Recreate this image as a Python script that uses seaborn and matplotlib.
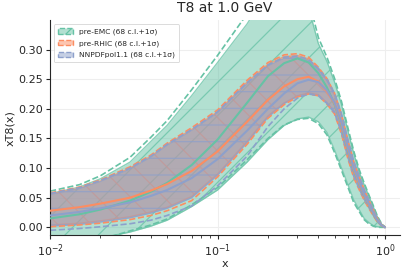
import numpy as np
import matplotlib
matplotlib.use("Agg")
import matplotlib.pyplot as plt
from matplotlib.patches import Patch
import seaborn as sns

# ---------------- data ----------------
x = [0.01, 0.015, 0.02, 0.03, 0.04, 0.05, 0.07, 0.1, 0.15, 0.2, 0.25, 0.3, 0.35,
     0.4, 0.45, 0.5, 0.55, 0.6, 0.65, 0.7, 0.75, 0.8, 0.85, 0.9, 0.95, 1.0]

labels = ["pre-EMC (68 c.l.+1σ)", "pre-RHIC (68 c.l.+1σ)", "NNPDFpol1.1 (68 c.l.+1σ)"]

# pre-EMC
emc_cv = [0.015, 0.022, 0.030, 0.045, 0.060, 0.075, 0.105, 0.148, 0.210, 0.255, 0.277, 0.285, 0.278,
          0.260, 0.236, 0.207, 0.172, 0.130, 0.096, 0.074, 0.054, 0.038, 0.024, 0.011, 0.004, 0.0]
emc_lo = [-0.030, -0.025, -0.018, -0.008, 0.002, 0.012, 0.035, 0.063, 0.110, 0.148, 0.172, 0.183, 0.186,
          0.178, 0.160, 0.130, 0.100, 0.072, 0.046, 0.030, 0.015, 0.008, 0.003, 0.001, 0.0, 0.0]
emc_hi = [0.057, 0.068, 0.082, 0.110, 0.145, 0.172, 0.222, 0.278, 0.343, 0.400, 0.430, 0.430, 0.370,
          0.310, 0.280, 0.245, 0.207, 0.163, 0.125, 0.094, 0.072, 0.053, 0.035, 0.018, 0.006, 0.0]
emc_s_lo = [-0.034, -0.028, -0.021, -0.006, 0.004, 0.014, 0.038, 0.067, 0.114, 0.150, 0.173, 0.182, 0.184,
            0.175, 0.156, 0.126, 0.096, 0.068, 0.042, 0.027, 0.013, 0.006, 0.002, 0.0, 0.0, 0.0]
emc_s_hi = [0.061, 0.072, 0.087, 0.118, 0.152, 0.180, 0.232, 0.290, 0.360, 0.420, 0.450, 0.445, 0.385,
            0.320, 0.287, 0.251, 0.212, 0.168, 0.129, 0.098, 0.075, 0.055, 0.037, 0.019, 0.007, 0.0]

# pre-RHIC
rhic_cv = [0.028, 0.034, 0.040, 0.050, 0.062, 0.073, 0.095, 0.128, 0.178, 0.215, 0.238, 0.250, 0.254,
           0.246, 0.229, 0.209, 0.174, 0.132, 0.098, 0.075, 0.055, 0.039, 0.025, 0.012, 0.004, 0.0]
rhic_lo = [0.004, 0.007, 0.011, 0.018, 0.026, 0.034, 0.052, 0.090, 0.145, 0.188, 0.210, 0.222, 0.227,
           0.224, 0.210, 0.194, 0.160, 0.119, 0.087, 0.066, 0.048, 0.034, 0.021, 0.010, 0.003, 0.0]
rhic_hi = [0.056, 0.066, 0.078, 0.100, 0.120, 0.140, 0.165, 0.195, 0.245, 0.275, 0.288, 0.290, 0.284,
           0.268, 0.249, 0.224, 0.188, 0.145, 0.109, 0.084, 0.062, 0.044, 0.029, 0.014, 0.005, 0.0]
rhic_s_lo = [0.001, 0.004, 0.007, 0.013, 0.020, 0.028, 0.045, 0.085, 0.140, 0.184, 0.207, 0.220, 0.225,
             0.222, 0.208, 0.191, 0.157, 0.116, 0.084, 0.064, 0.046, 0.032, 0.020, 0.009, 0.003, 0.0]
rhic_s_hi = [0.058, 0.068, 0.080, 0.102, 0.122, 0.142, 0.168, 0.198, 0.248, 0.278, 0.291, 0.293, 0.287,
             0.270, 0.251, 0.226, 0.190, 0.147, 0.111, 0.086, 0.064, 0.046, 0.030, 0.015, 0.005, 0.0]

# NNPDFpol1.1
pol_cv = [0.020, 0.026, 0.032, 0.042, 0.053, 0.063, 0.083, 0.115, 0.163, 0.200, 0.226, 0.243, 0.249,
          0.245, 0.231, 0.210, 0.176, 0.134, 0.100, 0.077, 0.056, 0.040, 0.025, 0.012, 0.004, 0.0]
pol_lo = [0.002, 0.005, 0.009, 0.016, 0.024, 0.032, 0.050, 0.088, 0.143, 0.186, 0.209, 0.221, 0.226,
          0.223, 0.210, 0.195, 0.162, 0.121, 0.089, 0.068, 0.049, 0.035, 0.022, 0.010, 0.003, 0.0]
pol_hi = [0.055, 0.065, 0.077, 0.098, 0.118, 0.138, 0.163, 0.193, 0.242, 0.272, 0.285, 0.287, 0.281,
          0.266, 0.248, 0.224, 0.189, 0.146, 0.110, 0.085, 0.063, 0.045, 0.029, 0.014, 0.005, 0.0]
pol_s_lo = [-0.005, -0.002, 0.001, 0.006, 0.012, 0.020, 0.036, 0.070, 0.120, 0.170, 0.200, 0.218, 0.225,
            0.222, 0.209, 0.193, 0.160, 0.119, 0.087, 0.066, 0.048, 0.034, 0.021, 0.010, 0.003, 0.0]
pol_s_hi = [0.057, 0.067, 0.079, 0.100, 0.120, 0.140, 0.165, 0.195, 0.244, 0.274, 0.287, 0.289, 0.283,
            0.268, 0.250, 0.226, 0.191, 0.148, 0.112, 0.087, 0.064, 0.046, 0.030, 0.015, 0.005, 0.0]

# ---------------- plot ----------------
sns.set_style("ticks")
plt.rcParams['font.family'] = ['DejaVu Sans']
plt.rcParams['hatch.linewidth'] = 0.9

colors = sns.color_palette("Set2", 3)
hatches = ['/', '\\', '-']
sets = [
    (emc_cv, emc_lo, emc_hi, emc_s_lo, emc_s_hi),
    (rhic_cv, rhic_lo, rhic_hi, rhic_s_lo, rhic_s_hi),
    (pol_cv, pol_lo, pol_hi, pol_s_lo, pol_s_hi),
]

fig, ax = plt.subplots(figsize=(4.07, 2.73), dpi=100)
fig.subplots_adjust(left=0.123, right=0.983, bottom=0.138, top=0.925)

handles = []
for (cv, lo, hi, slo, shi), c, h, lab in zip(sets, colors, hatches, labels):
    ax.fill_between(x, lo, hi, color=c, alpha=0.5, lw=0, zorder=1)
    ax.fill_between(x, lo, hi, facecolor='none', edgecolor=c, alpha=0.75, hatch=h, lw=1.0, zorder=1)
    sns.lineplot(x=x, y=cv, color=c, lw=1.5, ax=ax, zorder=3)
    sns.lineplot(x=x, y=slo, color=c, lw=1.2, linestyle='--', ax=ax, zorder=2)
    sns.lineplot(x=x, y=shi, color=c, lw=1.2, linestyle='--', ax=ax, zorder=2)
    handles.append(Patch(facecolor=(*c, 0.5), edgecolor=c, hatch=h, linestyle='--', lw=1.0))

ax.set_xscale('log')
ax.set_xlim(0.01, 1.23)
ax.set_ylim(-0.0135, 0.349)
ax.grid(True, color='#eeeeee', lw=0.8, zorder=0)
ax.set_axisbelow(True)
sns.despine(ax=ax)
ax.tick_params(labelsize=8, length=3, pad=2)
ax.set_xlabel('x', fontsize=8, labelpad=0)
ax.set_ylabel('xT8(x)', fontsize=8, labelpad=2)
ax.set_title('T8 at 1.0 GeV', fontsize=10, pad=6)

leg = ax.legend(handles, labels, loc='upper left', fontsize=5.4, frameon=True,
                handlelength=2.0, borderpad=0.55, labelspacing=0.65, framealpha=0.8)
leg.get_frame().set_edgecolor('#cccccc')
leg.get_frame().set_linewidth(0.6)

fig.savefig('out.png', dpi=100)
